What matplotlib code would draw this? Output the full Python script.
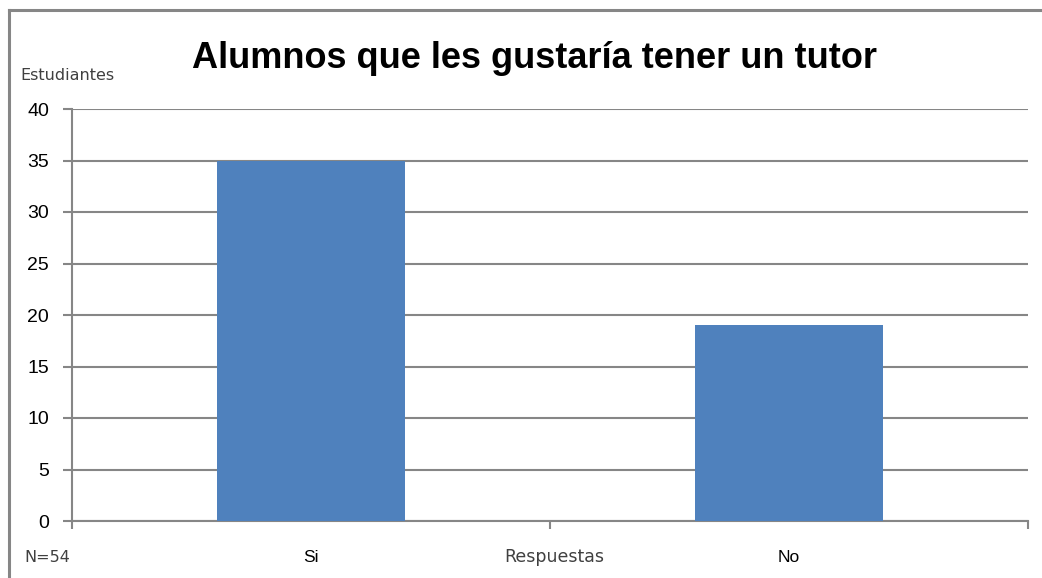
import numpy as np
from matplotlib import pyplot as plt
from matplotlib.lines import Line2D

# datos
categorias = ['Si', 'No']
estudiantes = [35, 19]
yticks = [0, 5, 10, 15, 20, 25, 30, 35, 40]

plt.rcParams['font.family'] = ['Liberation Sans', 'DejaVu Sans']

fig = plt.figure(figsize=(10.42, 5.78), dpi=100)
ax = fig.add_axes([72/1042, 1 - 521/578, 956/1042, 412/578])

gris = '#868686'
x = np.arange(len(categorias))
ax.bar(x, estudiantes, width=0.395, color='#4F81BD', zorder=3)

ax.set_xlim(-0.5, len(categorias) - 0.5)
ax.set_ylim(0, 40)
ax.set_yticks(yticks)
ax.set_yticklabels([str(v) for v in yticks], fontsize=14)
ax.yaxis.grid(True, color=gris, linewidth=1.5, zorder=0)

# marcas del eje x en los límites de categoría
ax.set_xticks([-0.5, 0.5, 1.5])
ax.set_xticklabels([])
ax.set_xticks(x, minor=True)
ax.set_xticklabels(categorias, minor=True, fontsize=12.5)
ax.tick_params(axis='x', which='minor', length=0, pad=21)
ax.tick_params(axis='x', which='major', length=6, width=1.5, color=gris)
ax.tick_params(axis='y', length=6.5, width=1.5, color=gris, pad=10)

for s in ['top', 'right']:
    ax.spines[s].set_visible(False)
ax.spines['left'].set_color(gris)
ax.spines['left'].set_linewidth(1.5)
ax.spines['bottom'].set_color(gris)
ax.spines['bottom'].set_linewidth(1.5)

# marco exterior
fig.add_artist(Line2D([9/1042, 9/1042], [0, 1 - 10/578], color=gris, linewidth=2.2))
fig.add_artist(Line2D([9/1042, 1], [1 - 10/578, 1 - 10/578], color=gris, linewidth=2.2))

fig.text(534/1042, 1 - 59/578, 'Alumnos que les gustaría tener un tutor',
         fontsize=26, fontweight='bold', ha='center', va='center')
fig.text(20/1042, 1 - 75/578, 'Estudiantes', fontsize=11.5, color='#404040',
         va='center', family='DejaVu Sans')
fig.text(24/1042, 1 - 557/578, 'N=54', fontsize=11.5, color='#404040',
         va='center', family='DejaVu Sans')
fig.text(554/1042, 1 - 557/578, 'Respuestas', fontsize=12.5, color='#404040',
         ha='center', va='center', family='DejaVu Sans')

fig.savefig('out.png', dpi=100)
